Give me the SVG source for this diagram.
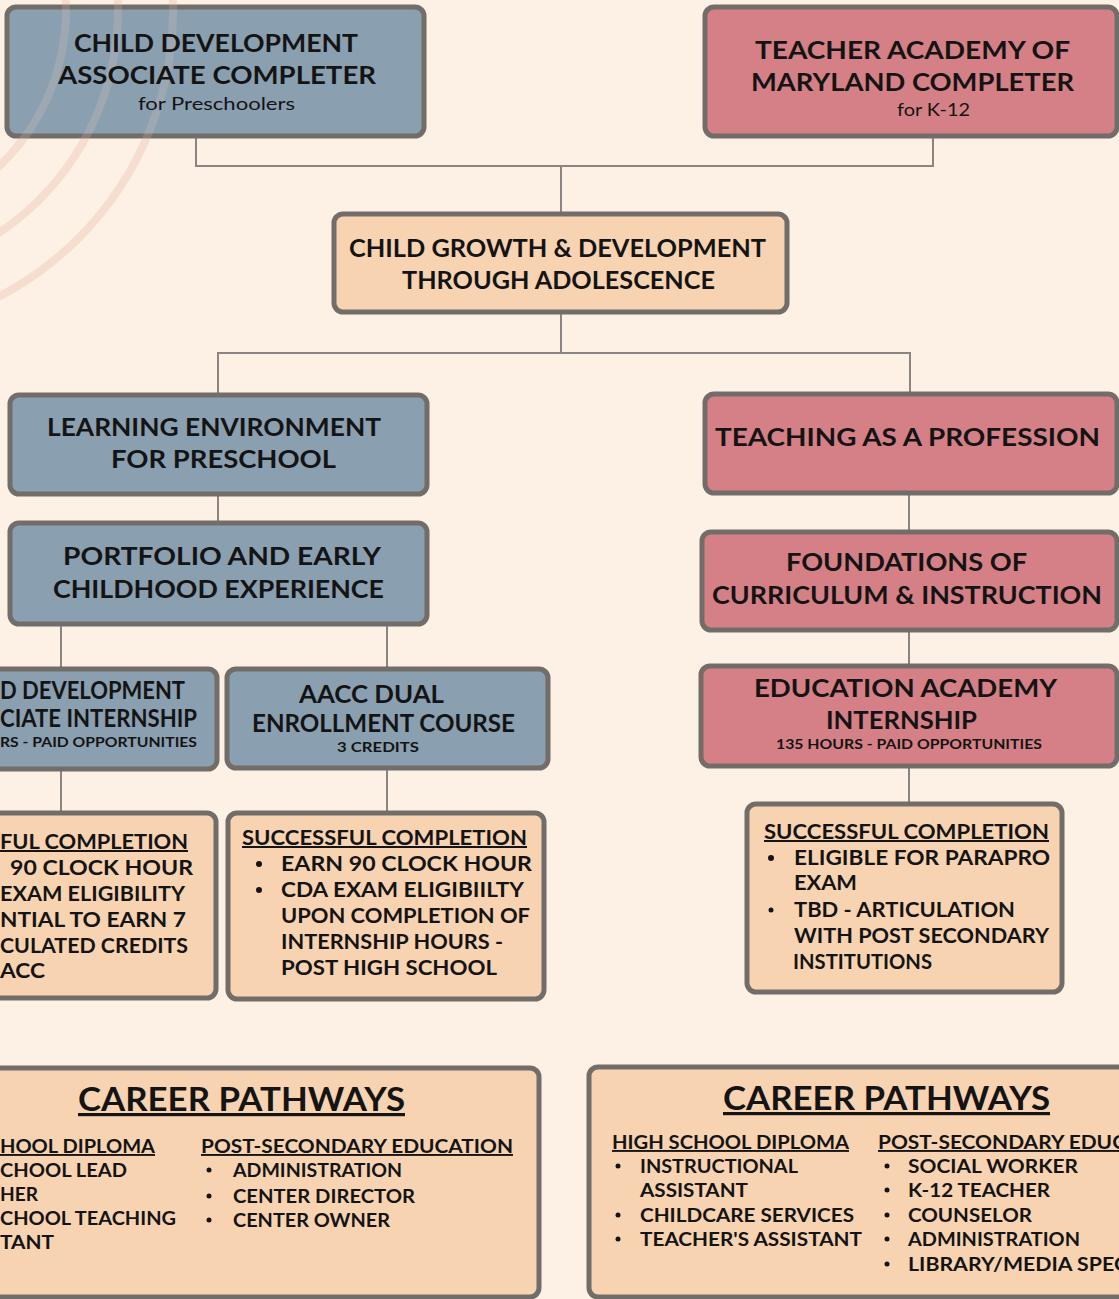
<svg xmlns="http://www.w3.org/2000/svg" width="1119" height="1299" viewBox="0 0 1119 1299">
<style>
.bg{fill:#fdf0e4}
.box{stroke:#736d69;stroke-width:5}
.blue{fill:#8a9fb0}
.pink{fill:#d58086}
.peach{fill:#f8d3b2}
.arc{fill:none;stroke:#f6e1d3;stroke-width:8}
.arc2{fill:none;stroke:#f3d2bf;stroke-width:8;opacity:0.18}
.con{fill:none;stroke:#8a8581;stroke-width:2}
text{font-family:Lato,"Liberation Sans",sans-serif;fill:#141414}
.t{font-size:24px;font-weight:700}
.s{font-size:17px;font-weight:400}
.m{font-size:13px;font-weight:700}
.b{font-size:20px;font-weight:700}
.c{font-size:19px;font-weight:700}
.h{font-size:32px;font-weight:700}
.u{text-decoration:underline}
.dot{fill:#141414}
</style>
<rect class="bg" x="0" y="0" width="1119" height="1299"/>
<g id="decoration">
<circle class="arc" cx="-150" cy="10" r="216"/>
<circle class="arc" cx="-150" cy="10" r="268"/>
<circle class="arc" cx="-150" cy="10" r="323"/>
</g>
<g id="connectors">
<path class="con" d="M196 136 V166 H933 V136"/>
<path class="con" d="M561 166 V214"/>
<path class="con" d="M561 312 V353"/>
<path class="con" d="M218 395 V353 H910 V393"/>
<path class="con" d="M218 494 V523"/>
<path class="con" d="M61 624 V668"/>
<path class="con" d="M387 624 V668"/>
<path class="con" d="M61 769 V812"/>
<path class="con" d="M387 768 V812"/>
<path class="con" d="M909 493 V531"/>
<path class="con" d="M909 630 V665"/>
<path class="con" d="M909 766 V803"/>
</g>
<g id="cda-completer">
<rect class="box blue" x="7" y="7" width="417" height="129" rx="9"/>
<circle class="arc2" cx="-150" cy="10" r="216"/>
<circle class="arc2" cx="-150" cy="10" r="268"/>
<circle class="arc2" cx="-150" cy="10" r="323"/>
<text class="t" x="74" y="52" textLength="284" lengthAdjust="spacingAndGlyphs">CHILD DEVELOPMENT</text>
<text class="t" x="58" y="84" textLength="318" lengthAdjust="spacingAndGlyphs">ASSOCIATE COMPLETER</text>
<text class="s" x="138" y="110" textLength="157" lengthAdjust="spacingAndGlyphs">for Preschoolers</text>
</g>
<g id="tam-completer">
<rect class="box pink" x="705" y="7" width="412" height="129" rx="9"/>
<text class="t" x="755" y="59" textLength="315" lengthAdjust="spacingAndGlyphs">TEACHER ACADEMY OF</text>
<text class="t" x="751" y="91" textLength="323" lengthAdjust="spacingAndGlyphs">MARYLAND COMPLETER</text>
<text class="s" x="897" y="116" textLength="73" lengthAdjust="spacingAndGlyphs">for K-12</text>
</g>
<g id="child-growth">
<rect class="box peach" x="334" y="214" width="453" height="98" rx="9"/>
<text class="t" x="349" y="257" textLength="417" lengthAdjust="spacingAndGlyphs">CHILD GROWTH &amp; DEVELOPMENT</text>
<text class="t" x="402" y="289" textLength="313" lengthAdjust="spacingAndGlyphs">THROUGH ADOLESCENCE</text>
</g>
<g id="learning-env">
<rect class="box blue" x="10" y="395" width="417" height="99" rx="9"/>
<text class="t" x="47" y="436" textLength="334" lengthAdjust="spacingAndGlyphs">LEARNING ENVIRONMENT</text>
<text class="t" x="111" y="468" textLength="225" lengthAdjust="spacingAndGlyphs">FOR PRESCHOOL</text>
</g>
<g id="portfolio">
<rect class="box blue" x="10" y="523" width="417" height="101" rx="9"/>
<text class="t" x="63" y="565" textLength="318" lengthAdjust="spacingAndGlyphs">PORTFOLIO AND EARLY</text>
<text class="t" x="53" y="598" textLength="331" lengthAdjust="spacingAndGlyphs">CHILDHOOD EXPERIENCE</text>
</g>
<g id="cda-internship">
<rect class="box blue" x="-20" y="669" width="237" height="100" rx="9"/>
<text class="t" x="0" y="699" textLength="185" lengthAdjust="spacingAndGlyphs">D DEVELOPMENT</text>
<text class="t" x="0" y="727" textLength="197" lengthAdjust="spacingAndGlyphs">CIATE INTERNSHIP</text>
<text class="m" x="0" y="747" textLength="197" lengthAdjust="spacingAndGlyphs">RS - PAID OPPORTUNITIES</text>
</g>
<g id="aacc-dual">
<rect class="box blue" x="227" y="669" width="321" height="99" rx="9"/>
<text class="t" x="299" y="703" textLength="145" lengthAdjust="spacingAndGlyphs">AACC DUAL</text>
<text class="t" x="252" y="732" textLength="263" lengthAdjust="spacingAndGlyphs">ENROLLMENT COURSE</text>
<text class="m" x="337" y="752" textLength="82" lengthAdjust="spacingAndGlyphs">3 CREDITS</text>
</g>
<g id="completion-left">
<rect class="box peach" x="-20" y="813" width="236" height="185" rx="9"/>
<text class="b u" x="0" y="849" textLength="188" lengthAdjust="spacingAndGlyphs">FUL COMPLETION</text>
<text class="b" x="10" y="875" textLength="183" lengthAdjust="spacingAndGlyphs">90 CLOCK HOUR</text>
<text class="b" x="0" y="901" textLength="185" lengthAdjust="spacingAndGlyphs">EXAM ELIGIBILITY</text>
<text class="b" x="0" y="927" textLength="186" lengthAdjust="spacingAndGlyphs">NTIAL TO EARN 7</text>
<text class="b" x="0" y="953" textLength="188" lengthAdjust="spacingAndGlyphs">CULATED CREDITS</text>
<text class="b" x="0" y="978" textLength="45" lengthAdjust="spacingAndGlyphs">ACC</text>
</g>
<g id="completion-mid">
<rect class="box peach" x="228" y="813" width="316" height="186" rx="9"/>
<text class="b u" x="242" y="845" textLength="285" lengthAdjust="spacingAndGlyphs">SUCCESSFUL COMPLETION</text>
<circle class="dot" cx="259" cy="864" r="3"/>
<circle class="dot" cx="259" cy="890" r="3"/>
<text class="b" x="281" y="871" textLength="251" lengthAdjust="spacingAndGlyphs">EARN 90 CLOCK HOUR</text>
<text class="b" x="281" y="897" textLength="243" lengthAdjust="spacingAndGlyphs">CDA EXAM ELIGIBIILTY</text>
<text class="b" x="281" y="923" textLength="249" lengthAdjust="spacingAndGlyphs">UPON COMPLETION OF</text>
<text class="b" x="281" y="949" textLength="222" lengthAdjust="spacingAndGlyphs">INTERNSHIP HOURS -</text>
<text class="b" x="281" y="975" textLength="216" lengthAdjust="spacingAndGlyphs">POST HIGH SCHOOL</text>
</g>
<g id="teaching-profession">
<rect class="box pink" x="705" y="394" width="412" height="99" rx="9"/>
<text class="t" x="715" y="446" textLength="385" lengthAdjust="spacingAndGlyphs">TEACHING AS A PROFESSION</text>
</g>
<g id="foundations">
<rect class="box pink" x="702" y="532" width="415" height="98" rx="9"/>
<text class="t" x="786" y="571" textLength="241" lengthAdjust="spacingAndGlyphs">FOUNDATIONS OF</text>
<text class="t" x="712" y="604" textLength="390" lengthAdjust="spacingAndGlyphs">CURRICULUM &amp; INSTRUCTION</text>
</g>
<g id="edu-internship">
<rect class="box pink" x="701" y="666" width="416" height="100" rx="9"/>
<text class="t" x="754" y="697" textLength="303" lengthAdjust="spacingAndGlyphs">EDUCATION ACADEMY</text>
<text class="t" x="826" y="729" textLength="151" lengthAdjust="spacingAndGlyphs">INTERNSHIP</text>
<text class="m" x="776" y="749" textLength="266" lengthAdjust="spacingAndGlyphs">135 HOURS - PAID OPPORTUNITIES</text>
</g>
<g id="completion-right">
<rect class="box peach" x="747" y="804" width="315" height="188" rx="9"/>
<text class="b u" x="764" y="839" textLength="285" lengthAdjust="spacingAndGlyphs">SUCCESSFUL COMPLETION</text>
<circle class="dot" cx="771" cy="858" r="3"/>
<circle class="dot" cx="771" cy="910" r="2.5"/>
<text class="b" x="794" y="865" textLength="256" lengthAdjust="spacingAndGlyphs">ELIGIBLE FOR PARAPRO</text>
<text class="b" x="794" y="890" textLength="63" lengthAdjust="spacingAndGlyphs">EXAM</text>
<text class="b" x="794" y="917" textLength="221" lengthAdjust="spacingAndGlyphs">TBD - ARTICULATION</text>
<text class="b" x="794" y="943" textLength="255" lengthAdjust="spacingAndGlyphs">WITH POST SECONDARY</text>
<text class="b" x="793" y="969" textLength="139" lengthAdjust="spacingAndGlyphs">INSTITUTIONS</text>
</g>
<g id="career-left">
<rect class="box peach" x="-20" y="1068" width="559" height="229" rx="9"/>
<text class="h u" x="78" y="1111" textLength="327" lengthAdjust="spacingAndGlyphs">CAREER PATHWAYS</text>
<text class="c u" x="0" y="1153" textLength="155" lengthAdjust="spacingAndGlyphs">HOOL DIPLOMA</text>
<text class="c" x="0" y="1177" textLength="127" lengthAdjust="spacingAndGlyphs">CHOOL LEAD</text>
<text class="c" x="0" y="1201" textLength="38" lengthAdjust="spacingAndGlyphs">HER</text>
<text class="c" x="0" y="1225" textLength="176" lengthAdjust="spacingAndGlyphs">CHOOL TEACHING</text>
<text class="c" x="0" y="1249" textLength="54" lengthAdjust="spacingAndGlyphs">TANT</text>
<text class="c u" x="201" y="1153" textLength="312" lengthAdjust="spacingAndGlyphs">POST-SECONDARY EDUCATION</text>
<circle class="dot" cx="209" cy="1170" r="2.5"/>
<circle class="dot" cx="209" cy="1196" r="2.5"/>
<circle class="dot" cx="209" cy="1220" r="2.5"/>
<text class="c" x="233" y="1177" textLength="169" lengthAdjust="spacingAndGlyphs">ADMINISTRATION</text>
<text class="c" x="233" y="1203" textLength="182" lengthAdjust="spacingAndGlyphs">CENTER DIRECTOR</text>
<text class="c" x="233" y="1227" textLength="157" lengthAdjust="spacingAndGlyphs">CENTER OWNER</text>
</g>
<g id="career-right">
<rect class="box peach" x="589" y="1067" width="560" height="230" rx="9"/>
<text class="h u" x="723" y="1110" textLength="327" lengthAdjust="spacingAndGlyphs">CAREER PATHWAYS</text>
<text class="c u" x="612" y="1149" textLength="237" lengthAdjust="spacingAndGlyphs">HIGH SCHOOL DIPLOMA</text>
<circle class="dot" cx="618" cy="1166" r="2.5"/>
<circle class="dot" cx="618" cy="1215" r="2.5"/>
<circle class="dot" cx="618" cy="1239" r="2.5"/>
<text class="c" x="640" y="1173" textLength="158" lengthAdjust="spacingAndGlyphs">INSTRUCTIONAL</text>
<text class="c" x="640" y="1197" textLength="108" lengthAdjust="spacingAndGlyphs">ASSISTANT</text>
<text class="c" x="640" y="1222" textLength="214" lengthAdjust="spacingAndGlyphs">CHILDCARE SERVICES</text>
<text class="c" x="640" y="1246" textLength="222" lengthAdjust="spacingAndGlyphs">TEACHER'S ASSISTANT</text>
<text class="c u" x="878" y="1149" textLength="248" lengthAdjust="spacingAndGlyphs">POST-SECONDARY EDUC</text>
<circle class="dot" cx="887" cy="1166" r="2.5"/>
<circle class="dot" cx="887" cy="1190" r="2.5"/>
<circle class="dot" cx="887" cy="1215" r="2.5"/>
<circle class="dot" cx="887" cy="1239" r="2.5"/>
<circle class="dot" cx="887" cy="1264" r="2.5"/>
<text class="c" x="908" y="1173" textLength="170" lengthAdjust="spacingAndGlyphs">SOCIAL WORKER</text>
<text class="c" x="908" y="1197" textLength="142" lengthAdjust="spacingAndGlyphs">K-12 TEACHER</text>
<text class="c" x="908" y="1222" textLength="124" lengthAdjust="spacingAndGlyphs">COUNSELOR</text>
<text class="c" x="908" y="1246" textLength="172" lengthAdjust="spacingAndGlyphs">ADMINISTRATION</text>
<text class="c" x="908" y="1271" textLength="220" lengthAdjust="spacingAndGlyphs">LIBRARY/MEDIA SPEC</text>
</g>
</svg>
